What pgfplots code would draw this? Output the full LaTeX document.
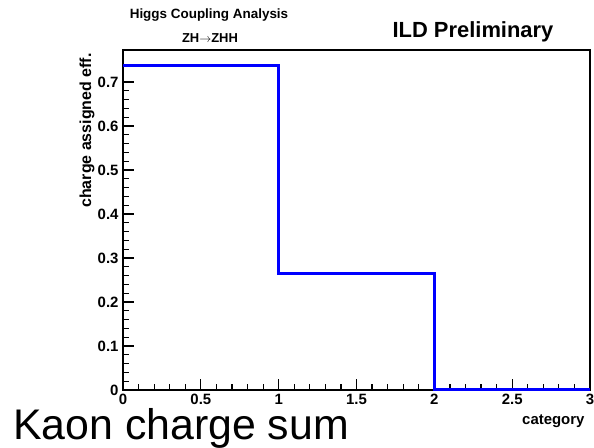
\documentclass[border=0pt]{standalone}
\usepackage{fontspec}
\setmainfont{Liberation Sans}
\usepackage{pgfplots}
\pgfplotsset{compat=1.18}

\begin{document}
\begin{tikzpicture}[x=1bp,y=1bp]
\useasboundingbox (-123,-58) rectangle (471,390);
\begin{axis}[
    at={(0,0)}, anchor=south west,
    scale only axis,
    width=467bp, height=340bp,
    xmin=0, xmax=3,
    ymin=0, ymax=0.773,
    xtick={0,0.5,...,3},
    ytick={0,0.1,...,0.7},
    minor x tick num=4,
    minor y tick num=4,
    xtick pos=lower, ytick pos=left,
    tick align=inside,
    major tick length=11bp,
    minor tick length=6bp,
    axis line style={line width=1.2bp},
    every tick/.style={black, line width=1.2bp},
    /pgf/number format/fixed,
    /pgf/number format/assume math mode=true,
    tick label style={font=\bfseries\fontsize{15}{15}\selectfont},
    yticklabel style={xshift=-1bp},
    xticklabel style={yshift=-1bp},
    xlabel={category},
    xlabel style={at={(rel axis cs:1,0)}, anchor=base east, yshift=-35bp, xshift=-2bp,
        font=\bfseries\fontsize{15}{16}\selectfont},
    ylabel={charge assigned eff.},
    ylabel style={at={(rel axis cs:-0.077,1)}, anchor=east,
        font=\bfseries\fontsize{16}{17}\selectfont},
    clip=false,
]
    % charge assigned efficiency per category
    \addplot[const plot, blue, line width=3bp] coordinates {
        (0,0.737) (1,0.264) (2,0) (3,0)
    };
\end{axis}
\node[font=\bfseries\fontsize{13.5}{14}\selectfont] at (86,375) {Higgs Coupling Analysis};
\node[font=\bfseries\fontsize{13}{14}\selectfont] at (87,352) {ZH$\rightarrow$ZHH};
\node[font=\bfseries\fontsize{22}{23}\selectfont] at (350,358) {ILD Preliminary};
\node[font=\fontsize{43}{44}\selectfont, anchor=base west, inner sep=0] at (-110,-50) {Kaon charge sum};
\end{tikzpicture}
\end{document}
